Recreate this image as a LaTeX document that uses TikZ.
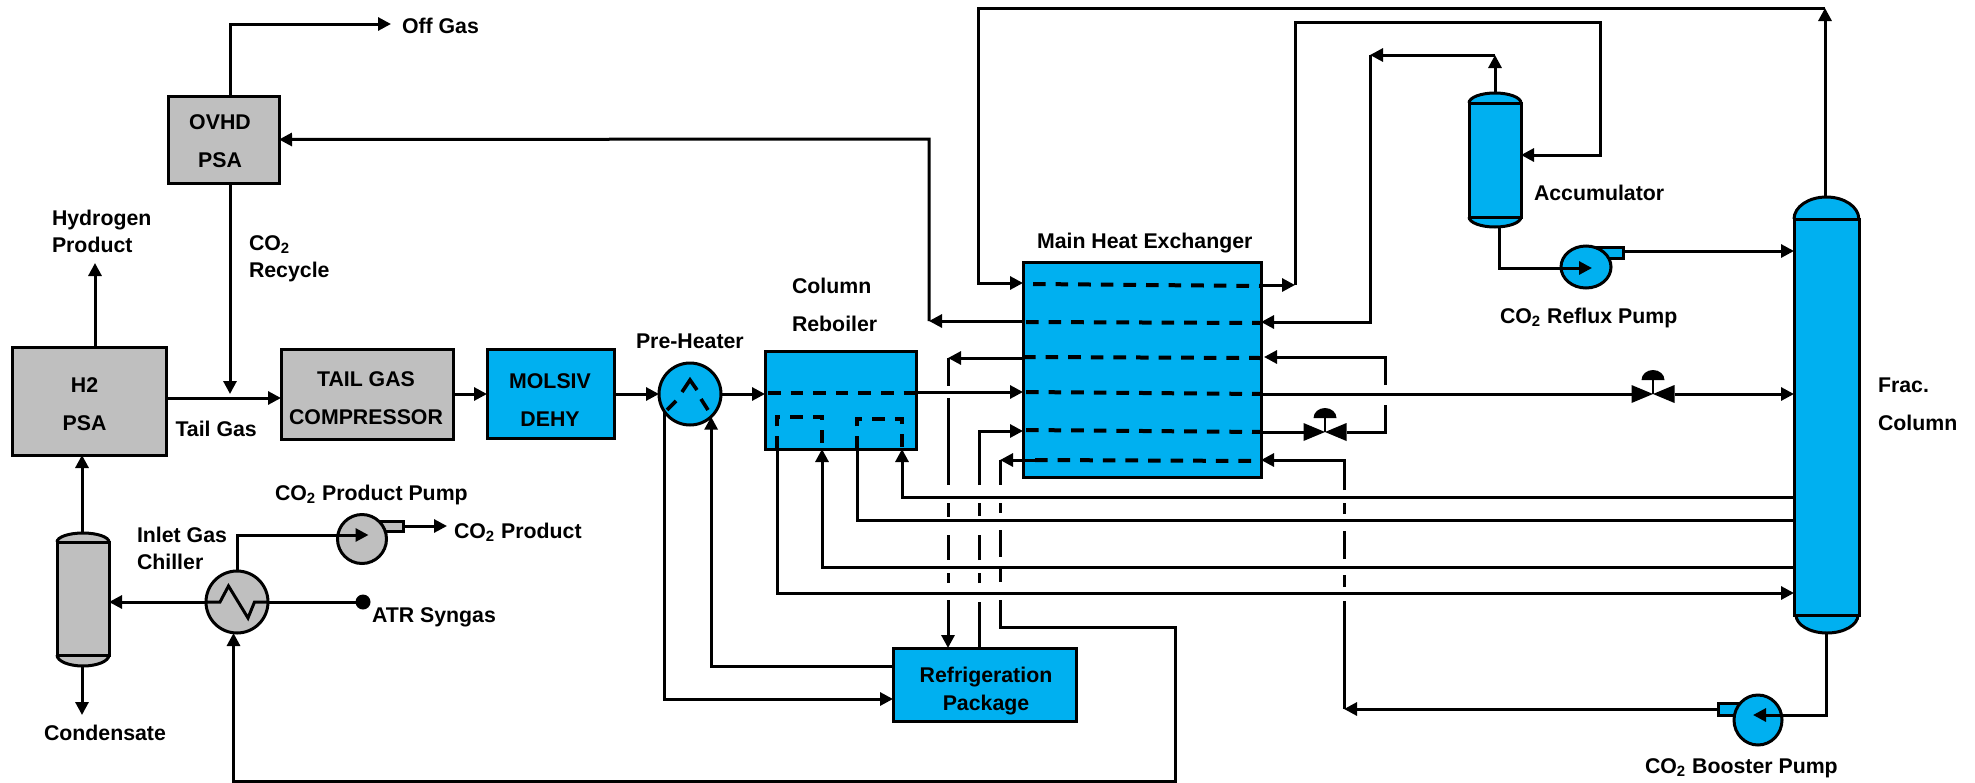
\documentclass[tikz,border=0pt]{standalone}
\usepackage{fontspec}
\setmainfont{Liberation Sans}
\usepackage{xcolor}
\usetikzlibrary{arrows.meta,shapes.geometric}
\definecolor{unitblue}{HTML}{00B0F0}
\definecolor{unitgray}{HTML}{BFBFBF}

\begin{document}
\begin{tikzpicture}[x=0.5pt,y=-0.5pt,line width=1.5pt,
  unit/.style={draw,line width=1.5pt,rectangle,inner sep=0pt,outer sep=0pt},
  bluebox/.style={unit,fill=unitblue},
  graybox/.style={unit,fill=unitgray},
  round/.style={draw,line width=1.5pt,circle,inner sep=0pt,outer sep=0pt,minimum size=31pt},
  pump/.style={draw,line width=1.5pt,ellipse,inner sep=0pt,outer sep=0pt,minimum width=24.5pt,minimum height=24.5pt},
  lbl/.style={inner sep=0pt,outer sep=0pt,anchor=west,align=left,font=\fontsize{10.65}{13.5}\selectfont\bfseries},
  boxtxt/.style={inner sep=0pt,outer sep=0pt,align=center,font=\fontsize{10.65}{19}\selectfont\bfseries},
  valve/.style={inner sep=0pt,outer sep=0pt,minimum width=21.5pt,minimum height=9pt},
  dot/.style={circle,fill=black,inner sep=0pt,outer sep=0pt,minimum size=7.5pt},
  arr/.style={-{Triangle[length=6.5pt,width=6.5pt]}},
  dsh/.style={line width=2pt,dash pattern=on 6.3pt off 5pt}]
 \useasboundingbox (0,0) rectangle (1975,782);

 \node[graybox,minimum width=55.5pt,minimum height=43.5pt] (ovhd) at (223.5,139.5) {};
 \node[graybox,minimum width=77pt,minimum height=54pt] (hpsa) at (89,401) {};
 \node[graybox,minimum width=86pt,minimum height=45pt] (tgc) at (367,394) {};
 \node[bluebox,minimum width=63.5pt,minimum height=44.5pt] (dehy) at (550.5,394) {};
 \node[bluebox,minimum width=75.5pt,minimum height=49pt] (reb) at (840.5,400) {};
 \node[bluebox,minimum width=119pt,minimum height=107.5pt] (mhx) at (1142,369.5) {};
 \node[bluebox,minimum width=91.5pt,minimum height=36.5pt] (refrig) at (984.5,684.5) {};

 \node[boxtxt] (ovhdtxt) at (220,141) {OVHD\\PSA};
 \node[boxtxt] (hpsatxt) at (84.5,404) {H2\\PSA};
 \node[boxtxt] (tgctxt) at (366,398) {TAIL GAS\\COMPRESSOR};
 \node[boxtxt] (dehytxt) at (550,400) {MOLSIV\\DEHY};
 \node[boxtxt,font=\fontsize{10.65}{14}\selectfont\bfseries] (refrigtxt) at (986,691) {Refrigeration\\Package};

 \node[round,fill=unitblue] (preh) at (690,394) {};
 \node[round,fill=unitgray] (chill) at (237,602) {};

 \filldraw[fill=unitgray,line width=1.5pt] (57,542) arc[start angle=180,end angle=0,x radius=13pt,y radius=4.5pt];
 \filldraw[fill=unitgray,line width=1.5pt] (57,655) arc[start angle=180,end angle=360,x radius=13pt,y radius=5.5pt];
 \node[graybox,minimum width=26pt,minimum height=56.5pt] (sep) at (83,598.5) {};
 \filldraw[fill=unitblue,line width=1.5pt] (1469,103) arc[start angle=180,end angle=0,x radius=13pt,y radius=5pt];
 \filldraw[fill=unitblue,line width=1.5pt] (1469,217) arc[start angle=180,end angle=360,x radius=13pt,y radius=5pt];
 \node[bluebox,minimum width=26pt,minimum height=57pt] (acc) at (1495,160) {};
 \filldraw[fill=unitblue,line width=1.5pt] (1794,219) arc[start angle=180,end angle=0,x radius=16.2pt,y radius=11pt];
 \filldraw[fill=unitblue,line width=1.5pt] (1796,615) arc[start angle=180,end angle=360,x radius=15.5pt,y radius=9pt];
 \node[bluebox,minimum width=32.5pt,minimum height=198pt] (frac) at (1826.5,417) {};

 \node[graybox,minimum width=20.5pt,minimum height=5pt] (prodnoz) at (382.5,526) {};
 \node[pump,fill=unitgray] (prodpump) at (362,539) {};
 \node[bluebox,minimum width=18.5pt,minimum height=5.5pt] (refluxnoz) at (1604.5,252.5) {};
 \node[pump,fill=unitblue,minimum width=25pt,minimum height=21pt] (refluxpump) at (1586,267) {};
 \node[bluebox,minimum width=11pt,minimum height=6pt] (boostnoz) at (1729,709) {};
 \node[pump,fill=unitblue,minimum width=24pt,minimum height=25pt] (boostpump) at (1758,720) {};

 \node[valve] (valveA) at (1325,432) {};
 \node[valve] (valveB) at (1653,394) {};
 \foreach \v in {valveA,valveB} {
  \fill (\v.north west) -- (\v.south east) -- (\v.north east) -- (\v.south west) -- cycle;
  \draw[line width=0.8pt] (\v.center) -- ++(0,-16);
  \fill ([shift={(-11.5,-14)}]\v.center) arc[start angle=180,end angle=0,x radius=5.75pt,y radius=5pt] -- cycle;
 }

 \draw[dsh] (mhx.west |- 0,284) ++(10,0) -- (mhx.east |- 0,286);
 \draw[dsh] (mhx.west |- 0,322) ++(3,0) -- (mhx.east |- 0,323);
 \draw[dsh] (mhx.west |- 0,357) -- (mhx.east |- 0,358);
 \draw[dsh] (mhx.west |- 0,392) ++(3,0) -- (mhx.east |- 0,394);
 \draw[dsh] (mhx.west |- 0,430) ++(3,0) -- (mhx.east |- 0,432);
 \draw[dsh] (mhx.west |- 0,460) ++(12,0) -- (mhx.east |- 0,461);
 \draw[dsh] (reb.west |- 0,393) ++(3,0) -- (reb.east |- 0,393);
 \draw[dsh] (777,0 |- reb.south) -- (777,417) -- (822,417) -- (822,0 |- reb.south);
 \draw[dsh] (857,0 |- reb.south) -- (857,419) -- (902,419) -- (902,0 |- reb.south);
 \draw[line width=1.8pt] (667,410) -- (676,401) (682,392) -- (690,380) -- (697,390) (701,399) -- (708,410);
 \draw (chill.west) -- (220,602) -- (228.5,586) -- (248,618) -- (254.5,602) -- (chill.east);

 \coordinate (fractop) at (1825,197);
 \coordinate (fracbot) at (1826,633);
 \coordinate (acctop) at (1495,93);
 \coordinate (accbot) at (1499,227);
 \coordinate (septop) at (82,533);
 \coordinate (sepbot) at (82,666);
 \coordinate (coldout) at (1035,460);
 \coordinate (offend) at (391,24);
 \coordinate (h2end) at (95,263);
 \coordinate (condend) at (82,715);
 \coordinate (prodend) at (447,526);

 \draw[arr] (fractop) -- (fractop |- 0,8);
 \draw[arr] (fractop |- 0,8) -- (978,8) -- (978,283) -- (mhx.west |- 0,283);
 \draw[arr] (mhx.east |- 0,285) -- (1295,285);
 \draw[arr] (1295,285) -- (1295,22) -- (1600,22) -- (1600,155) -- (acc.east |- 0,155);
 \draw[arr] (acctop) -- (1495,55);
 \draw[arr] (1495,55) -- (1370,55);
 \draw[arr] (1370,55) -- (1370,322) -- (mhx.east |- 0,322);
 \draw[arr] (mhx.west |- 0,321) -- (929,321);
 \draw[arr] (929,321) -- (929,139) -- (ovhd.east);
 \draw[arr] (reb.east |- 0,392) -- (mhx.west |- 0,392);
 \draw (mhx.east |- valveB.west) -- (valveB.west);
 \draw[arr] (valveB.east) -- (frac.west |- valveB.east);
 \draw (mhx.east |- valveA.west) -- (valveA.west);
 \draw[arr] (valveA.east) -- (1385,432) -- (1385,405) (1385,385) -- (1385,357) -- (1264,357);

 \draw[arr] (mhx.west |- 0,358) -- (948,358);
 \draw[arr] (948,358) -- (948,386) (948,398) -- (948,485) (948,503) -- (948,517) (948,535) -- (948,560) (948,573) -- (948,583) (948,600) -- (948,0 |- refrig.north);
 \draw[arr] (979,0 |- refrig.north) -- (979,602) (979,583) -- (979,573) (979,560) -- (979,535) (979,516) -- (979,503) (979,485) -- (979,431) -- (mhx.west |- 0,431);
 \draw[arr] (coldout) -- (1000,460);
 \draw[arr] (1000,460) -- (1000,485) (1000,503) -- (1000,513) (1000,530) -- (1000,557) (1000,567) -- (1000,582) (1000,600) -- (1000,627) -- (1175,627) -- (1175,781) -- (233.5,781) -- (233.5,0 |- chill.south);
 \draw[arr] (boostnoz.west) -- (1344,709);
 \draw[arr] (1344,709) -- (1344,601) (1344,587) -- (1344,575) (1344,559) -- (1344,531) (1344,514) -- (1344,503) (1344,490) -- (1344,460) -- (mhx.east |- 0,460);

 \draw[arr] (frac.west |- 0,497) -- (902,497) -- (902,0 |- reb.south);
 \draw (frac.west |- 0,520) -- (857,520) -- (857,0 |- reb.south);
 \draw[arr] (frac.west |- 0,567) -- (822,567) -- (822,0 |- reb.south);
 \draw[arr] (777,0 |- reb.south) -- (777,593) -- (frac.west |- 0,593);

 \draw[arr] (dehy.east) -- (preh.west);
 \draw[arr] (preh.east) -- (reb.west |- preh.east);
 \draw[arr] (preh.216) |- (refrig.west |- 0,699);
 \draw[arr] (refrig.west |- 0,666) -| (preh.-47);

 \draw[arr] (230,0 |- ovhd.north) |- (offend);
 \draw[arr] (230,0 |- ovhd.south) -- (230,394);
 \draw[arr] (hpsa.east |- 0,398) -- (tgc.west |- 0,398);
 \draw[arr] (tgc.east) -- (dehy.west);
 \draw[arr] (95,0 |- hpsa.north) -- (h2end);
 \draw[arr] (septop) -- (82,0 |- hpsa.south);
 \draw[arr] (sepbot) -- (condend);
 \draw[arr] (chill.west) -- (sep.east |- chill.west);
 \draw[arr] (chill.north) |- (368.5,535);
 \draw[arr] (prodnoz.east) -- (prodend);
 \node[dot] (atr) at (363,602) {};
 \draw (chill.east) -- (atr);
 \draw[arr] (accbot) |- (1592,268);
 \draw[arr] (refluxnoz.east |- 0,251) -- (frac.west |- 0,251);
 \draw[arr] (fracbot) |- (1753,715);

 \node[lbl] (offgas) at (402,26) {Off Gas};
 \node[lbl] (h2prod) at (52,231) {Hydrogen\\Product};
 \node[lbl] (recycle) at (249,258.5) {CO\textsubscript{2}\\Recycle};
 \node[lbl] (tailgas) at (175.5,429) {Tail Gas};
 \node[lbl] (preheat) at (636,341) {Pre-Heater};
 \node[lbl,font=\fontsize{10.65}{19}\selectfont\bfseries] (rebtxt) at (792,305) {Column\\Reboiler};
 \node[lbl] (mhxtxt) at (1037,243.5) {Main Heat Exchanger};
 \node[lbl] (acctxt) at (1534,193) {Accumulator};
 \node[lbl] (refluxtxt) at (1500,318) {CO\textsubscript{2} Reflux Pump};
 \node[lbl,font=\fontsize{10.65}{19}\selectfont\bfseries] (fractxt) at (1878,404.5) {Frac.\\Column};
 \node[lbl] (prodpumptxt) at (275,494.5) {CO\textsubscript{2} Product Pump};
 \node[lbl] (prodtxt) at (454,532.5) {CO\textsubscript{2} Product};
 \node[lbl] (chilltxt) at (137,548.5) {Inlet Gas\\Chiller};
 \node[lbl] (atrtxt) at (372,617.5) {ATR Syngas};
 \node[lbl] (condtxt) at (44,733) {Condensate};
 \node[lbl] (boosttxt) at (1645,768) {CO\textsubscript{2} Booster Pump};
\end{tikzpicture}
\end{document}
